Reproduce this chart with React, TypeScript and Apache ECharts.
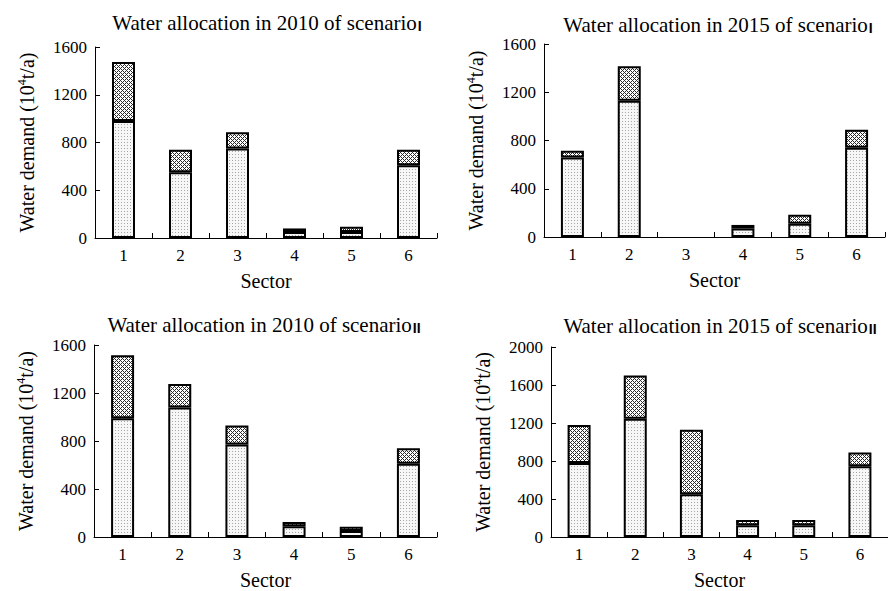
import React, { useEffect, useRef } from 'react';
import * as echarts from 'echarts';

const sectors = ['1', '2', '3', '4', '5', '6'];

const titleTexts = [
  'Water allocation in 2010 of scenario{r|I}',
  'Water allocation in 2015 of scenario{r|I}',
  'Water allocation in 2010 of scenario{r|II}',
  'Water allocation in 2015 of scenario{r|II}',
];

// lower (dotted) part and upper (cross-hatched) part of each stacked bar
const lower2010I = [980, 550, 750, 50, 50, 610];
const upper2010I = [495, 190, 135, 30, 45, 130];
const lower2015I = [660, 1130, 0, 70, 110, 740];
const upper2015I = [55, 285, 0, 30, 75, 150];
const lower2010II = [990, 1080, 770, 90, 50, 610];
const upper2010II = [525, 195, 160, 35, 35, 130];
const lower2015II = [780, 1245, 450, 125, 125, 745];
const upper2015II = [400, 455, 680, 55, 55, 145];

const yMax = [1600, 1600, 1600, 2000];
const yInterval = 400;

const FONT = "Liberation Serif";

function makeDots() {
  const c = document.createElement('canvas');
  c.width = 3;
  c.height = 3;
  const ctx = c.getContext('2d')!;
  ctx.fillStyle = '#f7f7f7';
  ctx.fillRect(0, 0, 3, 3);
  ctx.fillStyle = '#a5a5a5';
  ctx.fillRect(1, 1, 1, 1);
  return c.toDataURL();
}

function makeCross() {
  const c = document.createElement('canvas');
  c.width = 4;
  c.height = 4;
  const ctx = c.getContext('2d')!;
  ctx.fillStyle = '#ffffff';
  ctx.fillRect(0, 0, 4, 4);
  ctx.fillStyle = '#2a2a2a';
  for (let x = 0; x < 4; x++) {
    for (let y = 0; y < 4; y++) {
      if ((x + y) % 4 === 0 || (((x - y) % 4) + 4) % 4 === 0) ctx.fillRect(x, y, 1, 1);
    }
  }
  return c.toDataURL();
}

export default function App() {
  const ref = useRef<HTMLDivElement>(null);
  useEffect(() => {
    if (!ref.current) return;
    const chart = echarts.init(ref.current, undefined, { renderer: 'svg' });
    const dots = { image: makeDots(), repeat: 'repeat', imageWidth: 3, imageHeight: 3 };
    const cross = { image: makeCross(), repeat: 'repeat', imageWidth: 4, imageHeight: 4 };

    const grids = [
      { left: 95, top: 47, width: 342, height: 191 },
      { left: 544, top: 44, width: 341, height: 193 },
      { left: 94, top: 345, width: 343, height: 192 },
      { left: 551, top: 347, width: 344, height: 193 },
    ];
    const titlePos = [
      { x: 262, top: 7 },
      { x: 713, top: 9 },
      { x: 259, top: 309 },
      { x: 715, top: 310 },
    ];
    const lowers = [lower2010I, lower2015I, lower2010II, lower2015II];
    const uppers = [upper2010I, upper2015I, upper2010II, upper2015II];

    const nz = (v: number) => (v === 0 ? null : v);

    const option: any = {
      animation: false,
      backgroundColor: '#ffffff',
      textStyle: { fontFamily: FONT },
      title: titleTexts.map((t, i) => ({
        text: t,
        left: titlePos[i].x,
        top: titlePos[i].top,
        textAlign: 'center',
        textStyle: {
          fontFamily: FONT,
          fontSize: 21,
          fontWeight: 'normal',
          color: '#000',
          rich: {
            r: {
              fontFamily: 'Liberation Sans',
              fontWeight: 'bold',
              fontSize: 14,
              color: '#000',
              verticalAlign: 'bottom',
              padding: [7, 0, 0, 1],
            },
          },
        },
      })),
      grid: grids.map((g) => ({ ...g, containLabel: false })),
      xAxis: grids.map((_, i) => ({
        type: 'category',
        gridIndex: i,
        data: sectors,
        name: 'Sector',
        nameLocation: 'middle',
        nameGap: 33,
        nameTextStyle: { fontFamily: FONT, fontSize: 20, color: '#000' },
        axisLine: { show: true, lineStyle: { color: '#000', width: 1 } },
        axisTick: { show: true, inside: true, length: 5, alignWithLabel: false, lineStyle: { color: '#000' } },
        axisLabel: { fontFamily: FONT, fontSize: 17, color: '#000', margin: 9 },
        splitLine: { show: false },
      })),
      yAxis: grids.map((_, i) => ({
        type: 'value',
        gridIndex: i,
        min: 0,
        max: yMax[i],
        interval: yInterval,
        name: 'Water demand (10{sup|4}t/a)',
        nameLocation: 'middle',
        nameGap: 58,
        nameTextStyle: {
          fontFamily: FONT,
          fontSize: 20,
          color: '#000',
          rich: {
            sup: { fontFamily: FONT, fontSize: 12, color: '#000', padding: [0, 0, 9, 0] },
          },
        },
        axisLine: { show: true, lineStyle: { color: '#000', width: 1 } },
        axisTick: { show: true, inside: true, length: 5, lineStyle: { color: '#000' } },
        axisLabel: { fontFamily: FONT, fontSize: 17, color: '#000', margin: 8, formatter: (v: number) => String(v) },
        splitLine: { show: false },
      })),
      series: grids.flatMap((_, i) => [
        {
          type: 'bar',
          name: 'lower',
          xAxisIndex: i,
          yAxisIndex: i,
          stack: 's' + i,
          barWidth: 23,
          data: lowers[i].map(nz),
          itemStyle: { color: dots, borderColor: '#000', borderWidth: 2 },
        },
        {
          type: 'bar',
          name: 'upper',
          xAxisIndex: i,
          yAxisIndex: i,
          stack: 's' + i,
          barWidth: 23,
          data: uppers[i].map(nz),
          itemStyle: { color: cross, borderColor: '#000', borderWidth: 2 },
        },
      ]),
    };
    chart.setOption(option);
    return () => chart.dispose();
  }, []);
  return <div ref={ref} style={{ position: 'fixed', left: 0, top: 0, width: 888, height: 591 }} />;
}
